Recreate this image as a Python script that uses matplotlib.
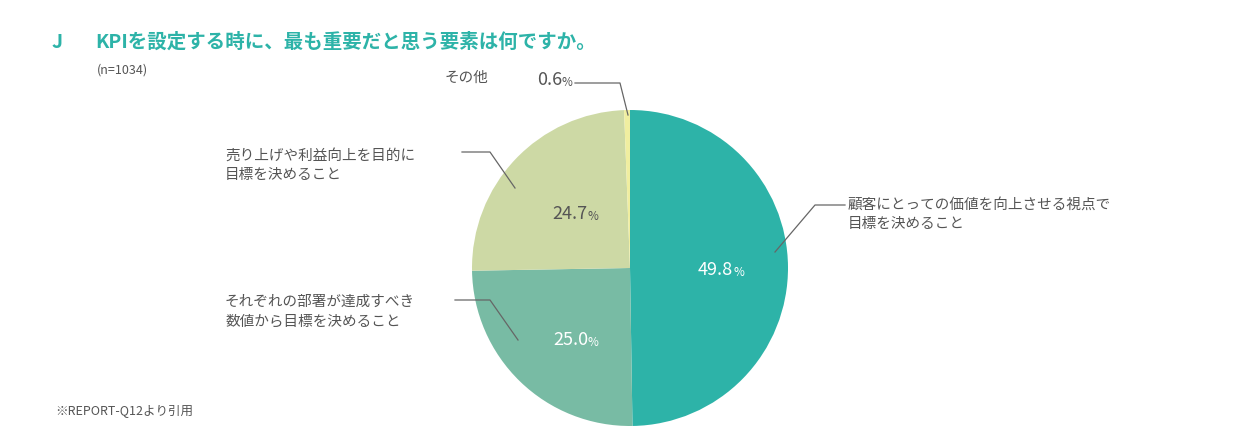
import matplotlib
matplotlib.use("Agg")
import matplotlib.pyplot as plt

plt.rcParams['font.family'] = ['Noto Sans CJK JP', 'DejaVu Sans']

labels = ["顧客にとっての価値を向上させる視点で\n目標を決めること",
          "それぞれの部署が達成すべき\n数値から目標を決めること",
          "売り上げや利益向上を目的に\n目標を決めること",
          "その他"]
values = [49.8, 25.0, 24.7, 0.6]
colors = ["#2db3a8", "#78bba4", "#cdd9a5", "#f0eea0"]

W, H = 1260, 442
fig = plt.figure(figsize=(W/100, H/100), dpi=100)
def px(x, y):
    return (x / W, 1 - y / H)

cx, cy, r = 630, 268, 158
ax = fig.add_axes([(cx-r)/W, 1-(cy+r)/H, 2*r/W, 2*r/H])
ax.pie(values, colors=colors, startangle=90, counterclock=False,
       wedgeprops=dict(linewidth=0))
ax.set_xlim(-1, 1)
ax.set_ylim(-1, 1)
ax.set_aspect('equal')
ax.axis('off')

teal = "#2db3a8"
gray = "#555555"
fig.text(*px(52, 42), "J", color=teal, fontsize=14, va='center', fontweight='bold')
fig.text(*px(95, 42), "KPIを設定する時に、最も重要だと思う要素は何ですか。", color=teal,
         fontsize=14, va='center', fontweight='bold')
fig.text(*px(97, 70), "(n=1034)", color=gray, fontsize=9, va='center')
fig.text(*px(55, 412), "※REPORT-Q12より引用", color=gray, fontsize=9, va='center')

def line(pts):
    xs = [p[0]/W for p in pts]; ys = [1-p[1]/H for p in pts]
    fig.add_artist(plt.Line2D(xs, ys, color="#666666", lw=0.9))

def pct(x, y, val, c):
    fig.text(*px(x, y), f"{val:.1f}", color=c, fontsize=13, va='center', ha='right')
    fig.text(*px(x, y + 2), "%", color=c, fontsize=8.5, va='center', ha='left')

pct(733, 270, values[0], "white")
pct(588, 340, values[1], "white")
pct(587, 214, values[2], gray)
pct(562, 80, values[3], gray)

fig.text(*px(848, 214), labels[0], color=gray, fontsize=10.5, va='center', linespacing=1.5)
fig.text(*px(225, 312), labels[1], color=gray, fontsize=10.5, va='center', linespacing=1.5)
fig.text(*px(225, 165), labels[2], color=gray, fontsize=10.5, va='center', linespacing=1.5)
fig.text(*px(445, 78), labels[3], color=gray, fontsize=10.5, va='center')

line([(845, 205), (815, 205), (775, 252)])
line([(455, 300), (490, 300), (518, 340)])
line([(462, 152), (490, 152), (515, 188)])
line([(575, 83), (620, 83), (628, 115)])

fig.savefig("out.png", dpi=100)
